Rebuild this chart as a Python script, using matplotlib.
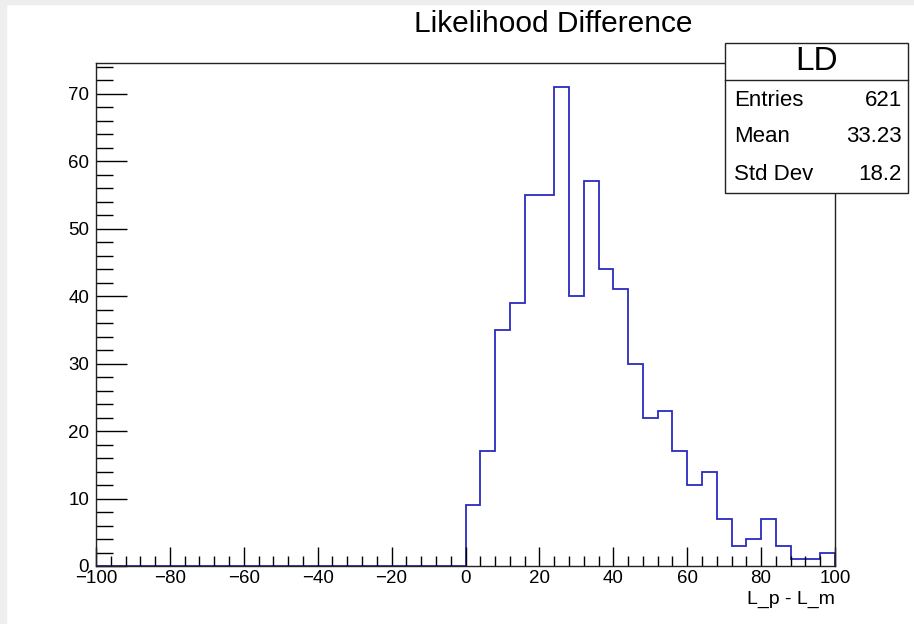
import numpy as np
import matplotlib
matplotlib.use("Agg")
import matplotlib.pyplot as plt
from matplotlib.ticker import MultipleLocator
from matplotlib.patches import Rectangle

plt.rcParams['font.family'] = ['Liberation Sans', 'DejaVu Sans']

# Data
bin_edges = np.arange(-100, 104, 4)
counts_from_zero = [9, 17, 35, 39, 55, 55, 71, 40, 57, 44, 41, 30, 22, 23, 17,
                    12, 14, 7, 3, 4, 7, 3, 1, 1, 2]
counts = [0] * 25 + counts_from_zero
title = "Likelihood Difference"
xlabel = "L_p - L_m"
stats_name = "LD"
stats_labels = ["Entries", "Mean", "Std Dev"]
stats_values = ["621", "33.23", "18.2"]
xtick_labels = ['\u2212100', '\u221280', '\u221260', '\u221240', '\u221220',
                '0', '20', '40', '60', '80', '100']

fig = plt.figure(figsize=(9.14, 6.24), dpi=100)
# faint outer border strips
fig.patches.append(Rectangle((0, 0), 6/914, 1, transform=fig.transFigure, color='#eeeeee', zorder=0))
fig.patches.append(Rectangle((0, 1-4/624), 1, 4/624, transform=fig.transFigure, color='#eeeeee', zorder=0))

ax = fig.add_axes([96/914, (624-566)/624, (835-96)/914, (566-63)/624])
ax.stairs(counts, bin_edges, color='#2b2bc0', linewidth=1.3)
ax.set_xlim(-100, 100)
ax.set_ylim(0, 74.55)

ax.set_xticks(np.arange(-100, 101, 20))
ax.set_xticklabels(xtick_labels)
ax.xaxis.set_minor_locator(MultipleLocator(4))
ax.yaxis.set_major_locator(MultipleLocator(10))
ax.yaxis.set_minor_locator(MultipleLocator(2))
ax.tick_params(axis='x', which='major', direction='in', length=14, width=1, labelsize=13.5, pad=3, top=False)
ax.tick_params(axis='x', which='minor', direction='in', length=7, width=1, top=False)
ax.tick_params(axis='y', which='major', direction='in', length=22, width=1, labelsize=13.5, pad=5, right=False)
ax.tick_params(axis='y', which='minor', direction='in', length=12, width=1, right=False)
for s in ax.spines.values():
    s.set_linewidth(1.0)
    s.set_color('#222222')

ax.text(1.0, -0.05, xlabel, transform=ax.transAxes, ha='right', va='top', fontsize=14)
fig.text(553/914, 1 - 24/624, title, ha='center', va='center', fontsize=21.5)

# stats box
bx0, bx1 = 725/914, 908/914
by_top, by_mid, by_bot = 1 - 43/624, 1 - 80/624, 1 - 193/624
fig.patches.append(Rectangle((bx0, by_bot), bx1 - bx0, by_top - by_bot, transform=fig.transFigure,
                             facecolor='white', edgecolor='#222222', linewidth=1.0, zorder=5))
fig.lines.append(plt.Line2D([bx0, bx1], [by_mid, by_mid], transform=fig.transFigure, color='#222222', linewidth=1.0, zorder=6))
fig.text((bx0 + bx1) / 2, 1 - 62/624, stats_name, ha='center', va='center', fontsize=24, zorder=7)
ys = [100, 137, 175]
for lab, val, y in zip(stats_labels, stats_values, ys):
    fig.text(734/914, 1 - y/624, lab, ha='left', va='center', fontsize=16, zorder=7)
    fig.text(902/914, 1 - y/624, val, ha='right', va='center', fontsize=16, zorder=7)

fig.savefig("out.png", dpi=100)
